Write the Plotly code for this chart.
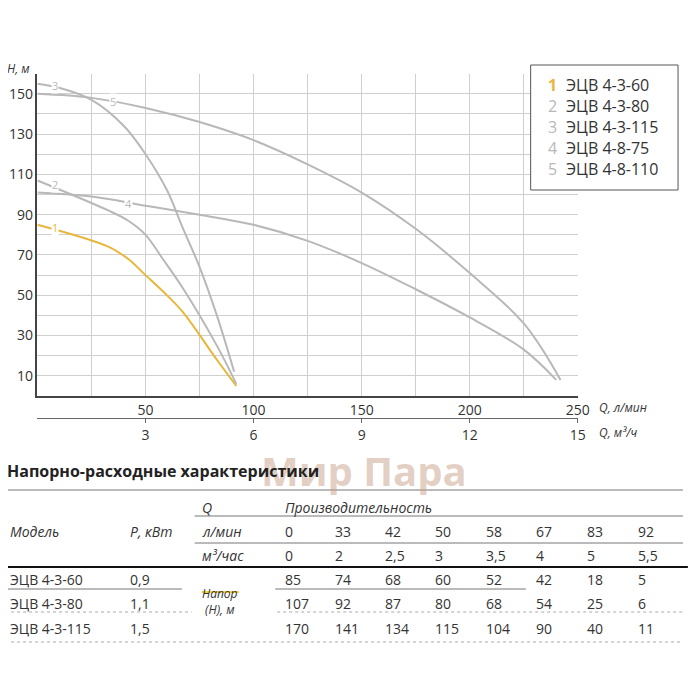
import plotly.graph_objects as go

W = H = 684
def px(x): return (x - 8) / W
def py(y): return 1 - (y - 8) / H

names = ["ЭЦВ 4-3-60", "ЭЦВ 4-3-80", "ЭЦВ 4-3-115", "ЭЦВ 4-8-75", "ЭЦВ 4-8-110"]
q1 = [0, 33, 42, 50, 58, 67, 83, 92];            h1 = [85, 74, 68, 60, 52, 42, 18, 5]
q2 = [0, 33, 42, 50, 58, 67, 83, 92];            h2 = [107, 92, 87, 80, 68, 54, 25, 6]
q3 = [0, 10, 25, 40, 50, 60, 67, 75, 83, 91];    h3 = [155, 153, 147, 134, 120, 102, 84, 64, 40, 12]
q4 = [0, 25, 50, 75, 100, 125, 150, 175, 200, 225, 240]; h4 = [101, 99, 94.5, 90, 85, 77, 66, 53, 39, 23, 8]
q5 = [0, 25, 50, 75, 100, 125, 150, 175, 200, 225, 242]; h5 = [150, 148, 143, 136, 127, 115, 101, 83, 61, 36, 8]
series = [(q1, h1), (q2, h2), (q3, h3), (q4, h4), (q5, h5)]
gold = "#e8b73a"; gray = "#b8b8b8"
colors = [gold, gray, gray, gray, gray]
label_pos = [(8, 83.6), (8, 105), (8, 154), (42, 95.5), (35, 146)]

fig = go.Figure()
for (q, h), c in zip(series, colors):
    fig.add_trace(go.Scatter(x=q, y=h, mode="lines", line=dict(color=c, width=2, shape="spline", smoothing=1.0),
                             showlegend=False, hoverinfo="skip"))

ann = []
for i, (x, y) in enumerate(label_pos):
    ann.append(dict(x=x, y=y, xref="x", yref="y", text=str(i + 1), showarrow=False,
                    bgcolor="white", font=dict(size=11, color=colors[i]), borderpad=0))

dark = "#333"
tf = "Liberation Sans Narrow, Open Sans"

def t(x, y, s, size=14, it=False, color=dark, bold=False):
    if it: s = "<i>%s</i>" % s
    if bold: s = "<b>%s</b>" % s
    ann.append(dict(x=px(x), y=py(y), xref="paper", yref="paper", text=s, showarrow=False,
                    xanchor="left", yanchor="middle", font=dict(size=size, color=color, family=tf)))

t(5, 68, "H, м", 12, it=True)
t(608, 407, "Q, л/мин", 12, it=True)
t(608, 432, "Q, м³/ч", 12, it=True)

shapes = [dict(type="rect", xref="paper", yref="paper", x0=px(540), x1=px(690), y0=py(65), y1=py(190),
               line=dict(color="#555", width=1), fillcolor="white", layer="above")]
for i, n in enumerate(names):
    yy = 85 + 21 * i
    t(556, yy, str(i + 1), 16, color=colors[i], bold=(i == 0))
    t(574, yy, n, 16)

ann.append(dict(x=px(370), y=py(470), xref="paper", yref="paper", text="<b>Мир Пара</b>", showarrow=False,
                yanchor="middle", font=dict(size=40, color="rgba(200,160,135,0.5)", family="Open Sans")))

t(5, 471, "Напорно-расходные характеристики", 16, color="#222", bold=True)
q_lmin = ["0", "33", "42", "50", "58", "67", "83", "92"]
q_m3 = ["0", "2", "2,5", "3", "3,5", "4", "5", "5,5"]
models = ["ЭЦВ 4-3-60", "ЭЦВ 4-3-80", "ЭЦВ 4-3-115"]
powers = ["0,9", "1,1", "1,5"]
heads = [["85", "74", "68", "60", "52", "42", "18", "5"],
         ["107", "92", "87", "80", "68", "54", "25", "6"],
         ["170", "141", "134", "115", "104", "90", "40", "11"]]
colx = [288, 339, 390, 441, 492, 543, 595, 647]

t(203, 507, "Q", it=True); t(288, 507, "Производительность", it=True)
t(8, 531, "Модель", it=True); t(130, 531, "P, кВт", it=True); t(203, 531, "л/мин", it=True)
t(203, 555, "м³/час", it=True)
for x, a, b in zip(colx, q_lmin, q_m3):
    t(x, 531, a); t(x, 555, b)
rows_y = [579, 603, 628]
for ry, m, p, hs in zip(rows_y, models, powers, heads):
    t(8, ry, m); t(130, ry, p)
    for x, v in zip(colx, hs):
        t(x, ry, v)
t(203, 601, "Напор<br>(Н), м", size=12, it=True)

def hl(x0, x1, y, color="#777", width=1, dash="solid"):
    shapes.append(dict(type="line", xref="paper", yref="paper", x0=px(x0), x1=px(x1), y0=py(y), y1=py(y),
                       line=dict(color=color, width=width, dash=dash)))
hl(5, 695, 490)
hl(198, 695, 516)
hl(198, 695, 543)
hl(0, 700, 567, "#111", 2)
hl(5, 185, 589); hl(280, 535, 589)
hl(5, 195, 612, "#aaa", 1, "dot"); hl(282, 695, 612, "#aaa", 1, "dot")
hl(5, 695, 642, "#aaa", 1, "dot")
hl(205, 243, 592, "#f0d040", 2)

grid = "#cfcfcf"
fig.update_layout(
    width=W, height=H, margin=dict(l=0, r=0, t=0, b=0), plot_bgcolor="white", paper_bgcolor="white",
    font=dict(family=tf, color=dark, size=13),
    annotations=ann, shapes=shapes,
    xaxis=dict(domain=[px(38), px(588)], range=[0, 250], tickvals=[50, 100, 150, 200, 250],
               showgrid=True, gridcolor=grid, minor=dict(dtick=25, showgrid=True, gridcolor=grid),
               showline=True, linecolor="#444", linewidth=1.5, zeroline=False, ticks="",
               tickfont=dict(size=14)),
    yaxis=dict(domain=[py(396), py(73.7)], range=[0, 160], tickvals=list(range(10, 151, 20)),
               showgrid=True, gridcolor=grid, minor=dict(dtick=10, showgrid=True, gridcolor=grid),
               showline=True, linecolor="#444", linewidth=1.5, zeroline=False, ticks="",
               tickfont=dict(size=14)),
    xaxis2=dict(domain=[px(38), px(588)], range=[0, 15], tickvals=[3, 6, 9, 12, 15], anchor="free",
                position=py(418), overlaying="x", showline=True, linecolor="#666", ticks="outside",
                ticklen=4, tickcolor="#666", showgrid=False, zeroline=False, tickfont=dict(size=14)),
)
fig.add_trace(go.Scatter(x=[0], y=[0], xaxis="x2", mode="markers", marker=dict(opacity=0), showlegend=False, hoverinfo="skip"))
fig.write_html("out.html")
